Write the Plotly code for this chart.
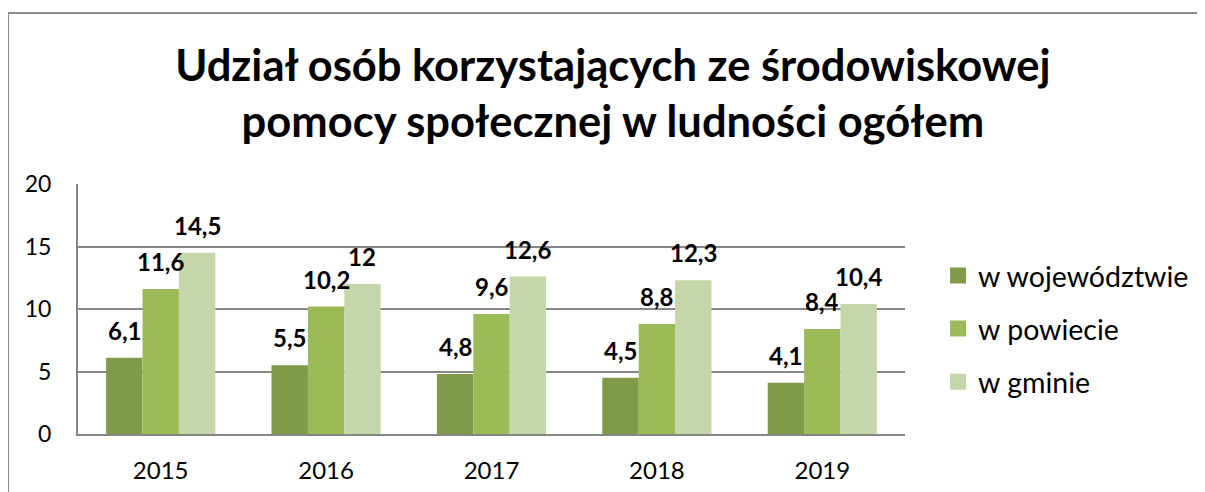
import plotly.graph_objects as go

years = ["2015", "2016", "2017", "2018", "2019"]
wojewodztwo = [6.1, 5.5, 4.8, 4.5, 4.1]
powiat = [11.6, 10.2, 9.6, 8.8, 8.4]
gmina = [14.5, 12.0, 12.6, 12.3, 10.4]

series_names = ["w województwie", "w powiecie", "w gminie"]
series_values = [wojewodztwo, powiat, gmina]
colors = ["#7F9A48", "#9BBB59", "#C5D6A9"]

FONT = "Lato"
W, H = 1205, 492
# the page is shown with the browser's 8px body margin, so offsets are trimmed by 8
L, T = 70, 176
plot_w, plot_h = 827, 250
R, B = W - L - plot_w, H - T - plot_h
bargap = 0.34
bar_px = plot_w / len(years) * (1 - bargap) / 3


def fmt(v):
    return f"{v:g}".replace(".", ",")


fig = go.Figure()

for i, (name, vals, col) in enumerate(zip(series_names, series_values, colors)):
    fig.add_trace(go.Bar(
        x=years, y=vals, name=name,
        marker=dict(color=col, line=dict(width=0)),
        showlegend=False,
    ))
    # legend entry with a bigger square
    fig.add_trace(go.Scatter(
        x=[None], y=[None], mode="markers", name=name,
        marker=dict(symbol="square", size=16, color=col),
        legendgroup=name,
    ))
    # data labels; category index used as the annotation position
    for j, v in enumerate(vals):
        fig.add_annotation(
            x=j, y=v, text=f"<b>{fmt(v)}</b>", showarrow=False,
            xref="x", yref="y", yanchor="bottom",
            xshift=(i - 1) * bar_px, yshift=11,
            font=dict(family=FONT, size=24, color="black"),
        )

# outer chart border (partly cropped in the original)
fig.add_shape(
    type="rect", xref="paper", yref="paper",
    x0=(0 - L) / plot_w, x1=2, y0=-1, y1=(T + plot_h - 5) / plot_h,
    line=dict(color="#8C8C8C", width=2), fillcolor="rgba(0,0,0,0)", layer="below",
)

fig.update_layout(
    width=W, height=H,
    margin=dict(l=L, r=R, t=T, b=B, autoexpand=False),
    paper_bgcolor="white", plot_bgcolor="white",
    barmode="group", bargap=bargap, bargroupgap=0,
    font=dict(family=FONT, color="black"),
    title=dict(
        text="<b>Udział osób korzystających ze środowiskowej<br>pomocy społecznej w ludności ogółem</b>",
        x=0.502, xanchor="center", y=0.852, yanchor="top",
        font=dict(family=FONT, size=43.5, color="black"),
    ),
    legend=dict(
        x=1.04, xanchor="left", y=0.42, yanchor="middle",
        font=dict(family=FONT, size=28.5, color="black"),
        tracegroupgap=13, itemwidth=30,
        bgcolor="rgba(0,0,0,0)",
    ),
    xaxis=dict(
        type="category", range=[-0.5, len(years) - 0.5],
        showline=True, linecolor="#868686", linewidth=2,
        ticks="", tickfont=dict(family=FONT, size=24, color="black"),
        ticklabelstandoff=14,
    ),
    yaxis=dict(
        range=[0, 20], dtick=5, showline=True, linecolor="#868686", linewidth=2,
        showgrid=True, gridcolor="#868686", gridwidth=2,
        zeroline=False, ticks="",
        tickfont=dict(family=FONT, size=23, color="black"),
        ticklabelstandoff=20,
    ),
)

fig.write_html("out.html")
